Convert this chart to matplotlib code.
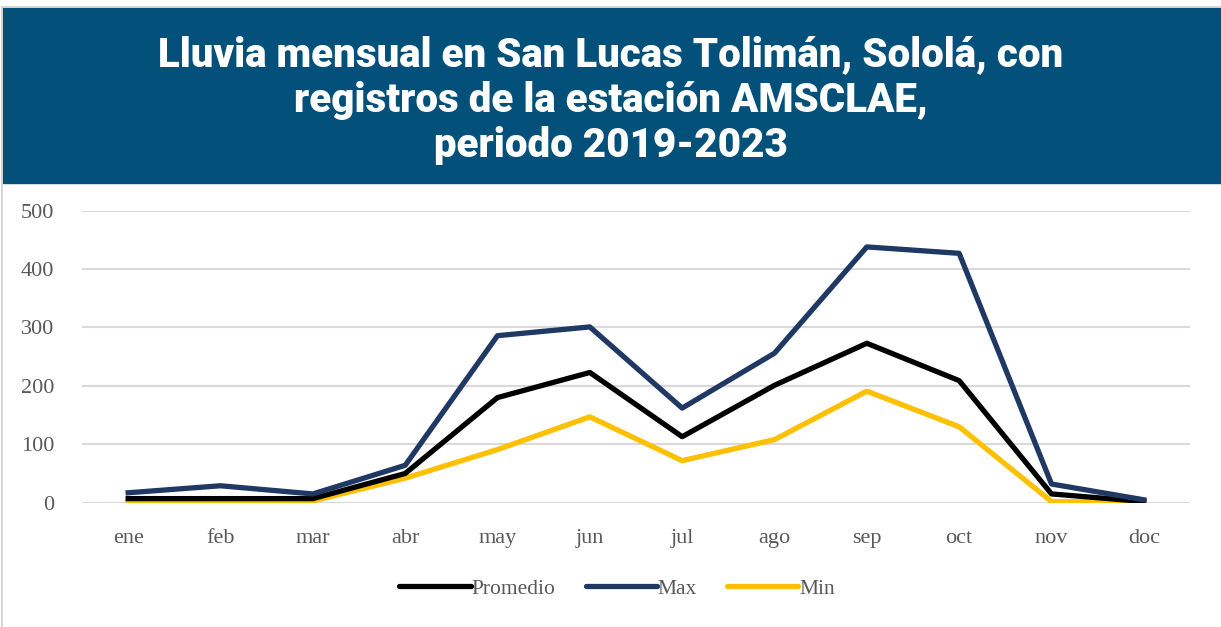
"""Lluvia mensual en San Lucas Tolimán (AMSCLAE), 2019-2023."""

import matplotlib.pyplot as plt
from matplotlib.patches import Rectangle
from matplotlib.lines import Line2D

MONTHS = ["ene", "feb", "mar", "abr", "may", "jun",
          "jul", "ago", "sep", "oct", "nov", "doc"]
PROMEDIO = [7, 7, 7, 50, 180, 223, 113, 201, 273, 209, 15, 2]
MAXIMO = [17, 29, 15, 64, 286, 301, 162, 256, 438, 427, 32, 5]
MINIMO = [2, 2, 3, 42, 91, 147, 72, 108, 191, 130, 2, 1]
Y_TICKS = [0, 100, 200, 300, 400, 500]

TITLE = ("Lluvia mensual en San Lucas Tolimán, Sololá, con\n"
         "registros de la estación AMSCLAE,\n"
         "periodo 2019-2023")

BAND = "#03507b"
GREY = "#595959"
SERIF = ["Liberation Serif", "DejaVu Serif"]
NARROW = ["Liberation Sans Narrow", "Roboto", "DejaVu Sans"]

fig = plt.figure(figsize=(12.21, 6.27), dpi=100)

# title band + thin frame
fig.patches.append(Rectangle((3 / 1221, 1 - 183 / 627), 1, 175 / 627,
                             transform=fig.transFigure, color=BAND, zorder=0))
fig.add_artist(Line2D([2 / 1221, 2 / 1221], [0, 1 - 7 / 627],
                      transform=fig.transFigure, color="#d0d0d0", lw=1.2))
fig.add_artist(Line2D([2 / 1221, 1], [1 - 7 / 627, 1 - 7 / 627],
                      transform=fig.transFigure, color="#d0d0d0", lw=1.2))
fig.text(0.5, 1 - 100 / 627, TITLE, ha="center", va="center",
         color="white", fontsize=29, fontweight="heavy", family=NARROW,
         linespacing=1.2)

ax = fig.add_axes([82 / 1221, 1 - 502.7 / 627, 1108 / 1221, 292 / 627])
x = range(len(MONTHS))
ax.plot(x, PROMEDIO, color="black", lw=3.8, label="Promedio", zorder=3)
ax.plot(x, MAXIMO, color="#203864", lw=3.8, label="Max", zorder=3)
ax.plot(x, MINIMO, color="#ffc000", lw=3.8, label="Min", zorder=2)

ax.set_xlim(-0.5, len(MONTHS) - 0.5)
ax.set_ylim(0, 500)
ax.set_yticks(Y_TICKS)
ax.set_xticks(list(x))
ax.set_xticklabels(MONTHS)
ax.grid(axis="y", color="#d9d9d9", lw=1.5)
ax.set_axisbelow(True)
for s in ax.spines.values():
    s.set_visible(False)
ax.tick_params(length=0, labelsize=16, labelcolor=GREY)
ax.tick_params(axis="x", pad=19)
ax.tick_params(axis="y", pad=20)
for lab in ax.get_xticklabels() + ax.get_yticklabels():
    lab.set_family(SERIF)

leg = ax.legend(loc="center", bbox_to_anchor=(0.483, -0.295), ncol=3,
                frameon=False, handlelength=3.3, handletextpad=0.05,
                columnspacing=1.4, prop={"family": SERIF, "size": 15.5})
for t in leg.get_texts():
    t.set_color(GREY)
for h in leg.get_lines():
    h.set_solid_capstyle("round")

plt.savefig("out.png", dpi=100, facecolor="white")
